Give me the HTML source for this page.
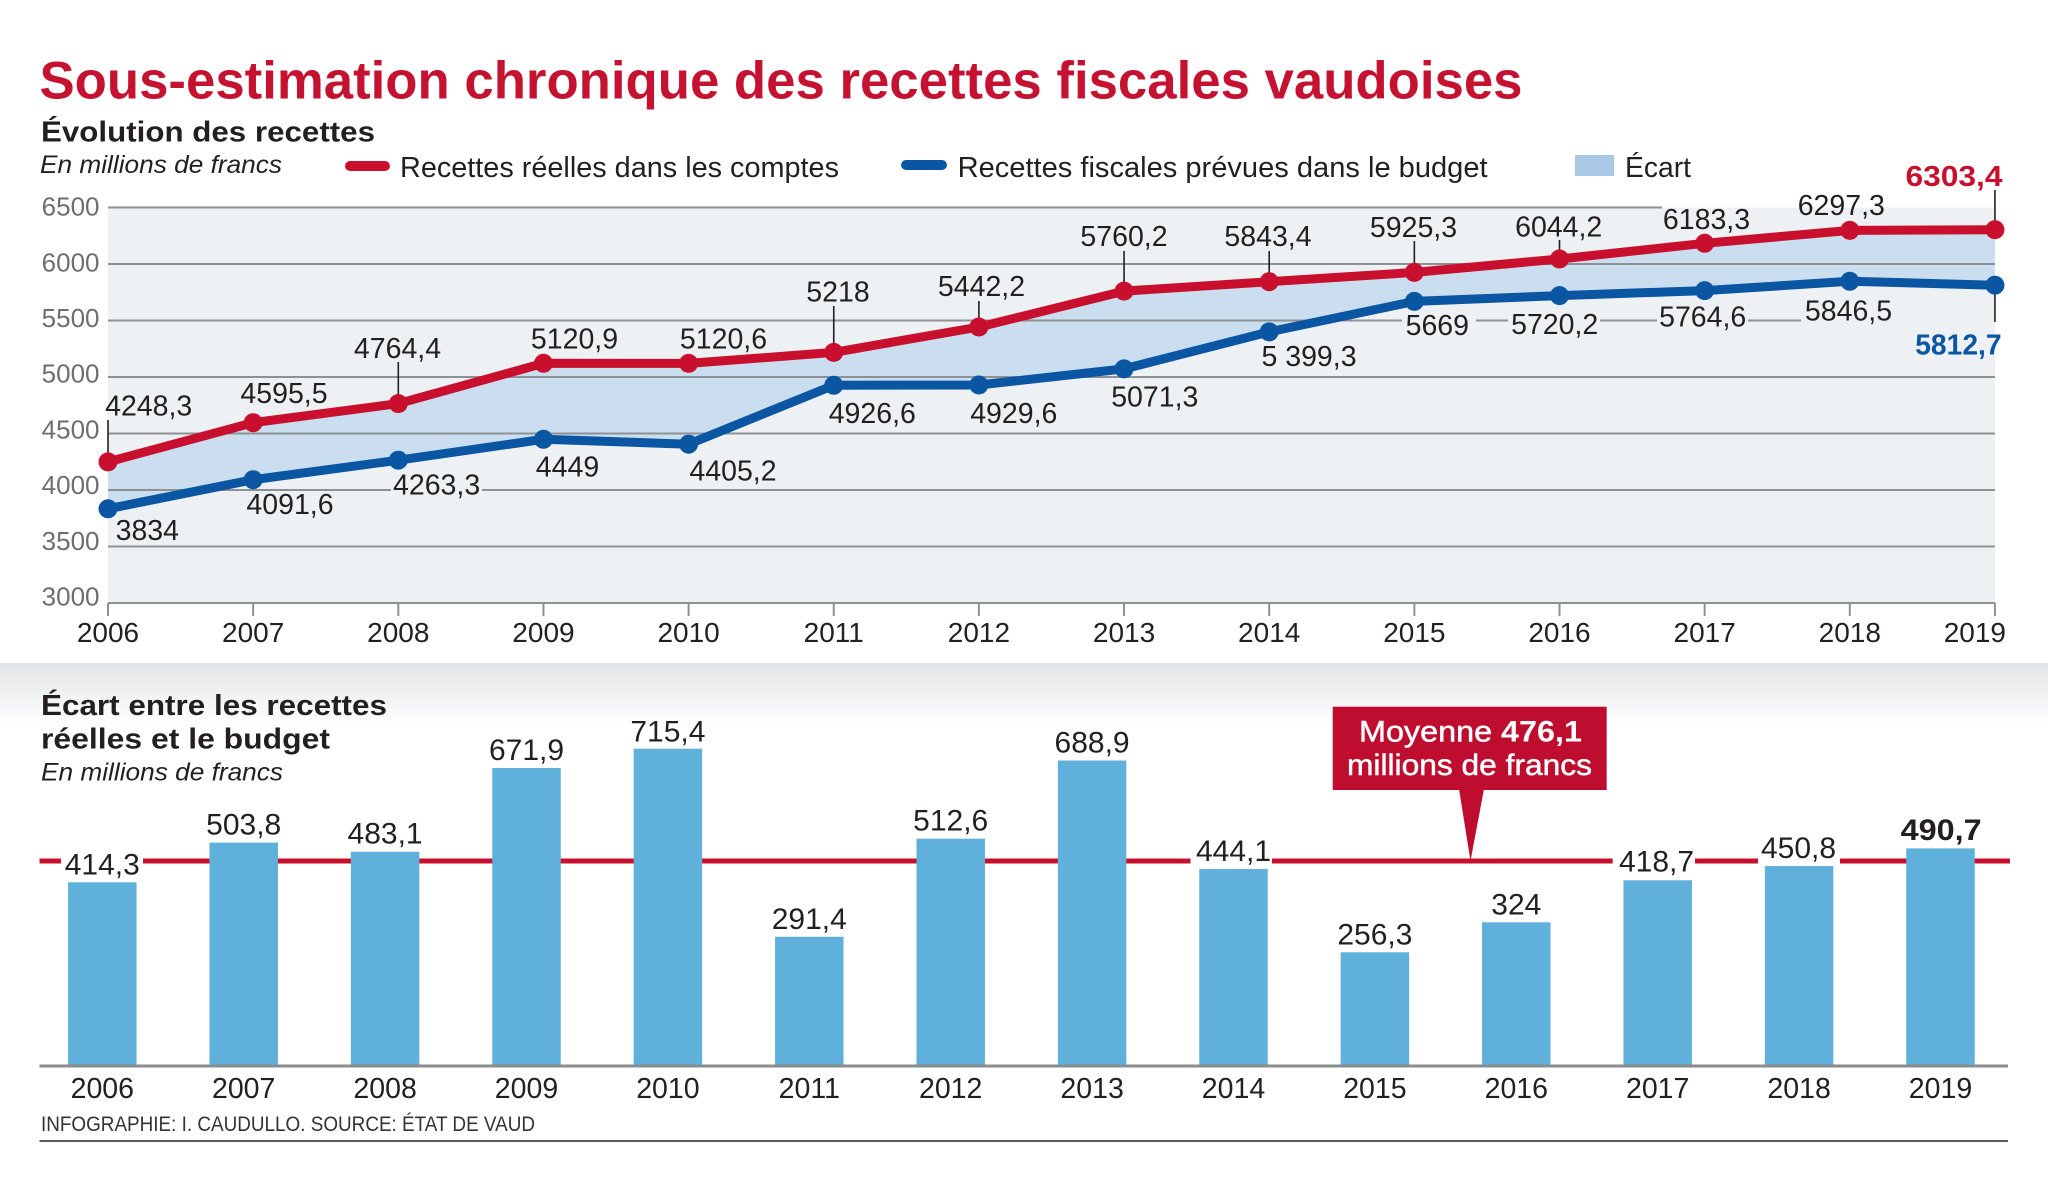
<!DOCTYPE html>
<html><head><meta charset="utf-8">
<style>html,body{margin:0;padding:0;background:#fff;}svg{display:block}</style>
</head><body>
<svg width="2048" height="1183" viewBox="0 0 2048 1183" xmlns="http://www.w3.org/2000/svg" font-family="'Liberation Sans', Arial, sans-serif">
<defs>
<linearGradient id="sh" x1="0" y1="0" x2="0" y2="1">
<stop offset="0" stop-color="#e1e4e6"/><stop offset="1" stop-color="#ffffff"/>
</linearGradient>
</defs>
<rect x="0" y="0" width="2048" height="1183" fill="#fff"/>

<!-- Titles -->
<text x="39.5" y="98.6" font-size="53" font-weight="bold" fill="#c41230" textLength="1483" lengthAdjust="spacingAndGlyphs">Sous-estimation chronique des recettes fiscales vaudoises</text>
<text x="41" y="141.4" font-size="29" font-weight="bold" fill="#231f20" textLength="334" lengthAdjust="spacingAndGlyphs">Évolution des recettes</text>
<text x="40" y="173" font-size="25" font-style="italic" fill="#231f20" textLength="242" lengthAdjust="spacingAndGlyphs">En millions de francs</text>

<!-- Legend -->
<line x1="350" y1="166" x2="385" y2="166" stroke="#c8102e" stroke-width="10" stroke-linecap="round"/>
<text x="400" y="177" font-size="28.5" fill="#231f20" textLength="439" lengthAdjust="spacingAndGlyphs">Recettes réelles dans les comptes</text>
<line x1="906" y1="165" x2="942" y2="165" stroke="#0b56a2" stroke-width="10" stroke-linecap="round"/>
<text x="957.6" y="177" font-size="28.5" fill="#231f20" textLength="530" lengthAdjust="spacingAndGlyphs">Recettes fiscales prévues dans le budget</text>
<rect x="1575" y="155" width="39" height="21" fill="#a9c9e7"/>
<text x="1625" y="177" font-size="28.5" fill="#231f20" textLength="66" lengthAdjust="spacingAndGlyphs">Écart</text>

<!-- Plot background -->
<rect x="108" y="207.5" width="1887" height="395.5" fill="#eef1f3"/>

<!-- Ecart fill -->
<polygon fill="#cadef0" points="108,461.9 253.15,422.7 398.3,403.6 543.45,363.3 688.6,363.4 833.75,352.4 978.9,327.0 1124.05,291.1 1269.2,281.7 1414.35,272.4 1559.5,259.0 1704.65,243.3 1849.8,230.4 1994.95,229.7 1994.95,285.2 1849.8,281.3 1704.65,290.6 1559.5,295.6 1414.35,301.4 1269.2,331.9 1124.05,368.9 978.9,385.0 833.75,385.3 688.6,444.2 543.45,439.3 398.3,460.2 253.15,479.7 108,508.8"/>

<!-- Gridlines -->
<g stroke="#8e9194" stroke-width="2">
<line x1="108" y1="207.5" x2="1662" y2="207.5"/>
<line x1="108" y1="264" x2="1995" y2="264"/>
<line x1="108" y1="320.5" x2="1402" y2="320.5"/>
<line x1="1476" y1="320.5" x2="1508" y2="320.5"/>
<line x1="1600" y1="320.5" x2="1657" y2="320.5"/>
<line x1="1748" y1="320.5" x2="1801" y2="320.5"/>
<line x1="108" y1="377" x2="1995" y2="377"/>
<line x1="108" y1="433.5" x2="1995" y2="433.5"/>
<line x1="108" y1="490" x2="391" y2="490"/>
<line x1="482" y1="490" x2="1995" y2="490"/>
<line x1="108" y1="546.5" x2="1995" y2="546.5"/>
<line x1="108" y1="603" x2="1995" y2="603"/>
</g>
<!-- ticks -->
<g stroke="#8e9194" stroke-width="2">
<line x1="108" y1="603" x2="108" y2="616"/>
<line x1="253.15" y1="603" x2="253.15" y2="616"/>
<line x1="398.3" y1="603" x2="398.3" y2="616"/>
<line x1="543.45" y1="603" x2="543.45" y2="616"/>
<line x1="688.6" y1="603" x2="688.6" y2="616"/>
<line x1="833.75" y1="603" x2="833.75" y2="616"/>
<line x1="978.9" y1="603" x2="978.9" y2="616"/>
<line x1="1124.05" y1="603" x2="1124.05" y2="616"/>
<line x1="1269.2" y1="603" x2="1269.2" y2="616"/>
<line x1="1414.35" y1="603" x2="1414.35" y2="616"/>
<line x1="1559.5" y1="603" x2="1559.5" y2="616"/>
<line x1="1704.65" y1="603" x2="1704.65" y2="616"/>
<line x1="1849.8" y1="603" x2="1849.8" y2="616"/>
<line x1="1994.95" y1="603" x2="1994.95" y2="616"/>
</g>

<!-- Y labels -->
<g font-size="26" fill="#6d6e71" text-anchor="end">
<text x="99.5" y="215.7">6500</text>
<text x="99.5" y="271.4">6000</text>
<text x="99.5" y="327.1">5500</text>
<text x="99.5" y="382.7">5000</text>
<text x="99.5" y="438.4">4500</text>
<text x="99.5" y="494.1">4000</text>
<text x="99.5" y="549.8">3500</text>
<text x="99.5" y="605.5">3000</text>
</g>

<!-- X labels top -->
<g font-size="28" fill="#231f20" text-anchor="middle">
<text x="108" y="642">2006</text>
<text x="253.15" y="642">2007</text>
<text x="398.3" y="642">2008</text>
<text x="543.45" y="642">2009</text>
<text x="688.6" y="642">2010</text>
<text x="833.75" y="642">2011</text>
<text x="978.9" y="642">2012</text>
<text x="1124.05" y="642">2013</text>
<text x="1269.2" y="642">2014</text>
<text x="1414.35" y="642">2015</text>
<text x="1559.5" y="642">2016</text>
<text x="1704.65" y="642">2017</text>
<text x="1849.8" y="642">2018</text>
<text x="2006" y="642" text-anchor="end">2019</text>
</g>

<!-- Leaders -->
<g stroke="#231f20" stroke-width="1.6">
<line x1="108" y1="420" x2="108" y2="455"/>
<line x1="398.3" y1="362" x2="398.3" y2="397"/>
<line x1="833.75" y1="306" x2="833.75" y2="346"/>
<line x1="978.9" y1="301" x2="978.9" y2="321"/>
<line x1="1124.05" y1="251" x2="1124.05" y2="285"/>
<line x1="1269.2" y1="251" x2="1269.2" y2="276"/>
<line x1="1414.35" y1="241" x2="1414.35" y2="266"/>
<line x1="1559.5" y1="240" x2="1559.5" y2="253"/>
<line x1="1994.95" y1="190" x2="1994.95" y2="223"/>
<line x1="1994.95" y1="291" x2="1994.95" y2="322"/>
</g>

<!-- Series lines -->
<polyline fill="none" stroke="#0b56a2" stroke-width="9" stroke-linejoin="round" points="108,508.8 253.15,479.7 398.3,460.2 543.45,439.3 688.6,444.2 833.75,385.3 978.9,385.0 1124.05,368.9 1269.2,331.9 1414.35,301.4 1559.5,295.6 1704.65,290.6 1849.8,281.3 1994.95,285.2"/>
<polyline fill="none" stroke="#c8102e" stroke-width="9" stroke-linejoin="round" points="108,461.9 253.15,422.7 398.3,403.6 543.45,363.3 688.6,363.4 833.75,352.4 978.9,327.0 1124.05,291.1 1269.2,281.7 1414.35,272.4 1559.5,259.0 1704.65,243.3 1849.8,230.4 1994.95,229.7"/>
<g fill="#0b56a2">
<circle cx="108" cy="508.8" r="9.5"/><circle cx="253.15" cy="479.7" r="9.5"/><circle cx="398.3" cy="460.2" r="9.5"/><circle cx="543.45" cy="439.3" r="9.5"/><circle cx="688.6" cy="444.2" r="9.5"/><circle cx="833.75" cy="385.3" r="9.5"/><circle cx="978.9" cy="385.0" r="9.5"/><circle cx="1124.05" cy="368.9" r="9.5"/><circle cx="1269.2" cy="331.9" r="9.5"/><circle cx="1414.35" cy="301.4" r="9.5"/><circle cx="1559.5" cy="295.6" r="9.5"/><circle cx="1704.65" cy="290.6" r="9.5"/><circle cx="1849.8" cy="281.3" r="9.5"/><circle cx="1994.95" cy="285.2" r="9.5"/>
</g>
<g fill="#c8102e">
<circle cx="108" cy="461.9" r="9.5"/><circle cx="253.15" cy="422.7" r="9.5"/><circle cx="398.3" cy="403.6" r="9.5"/><circle cx="543.45" cy="363.3" r="9.5"/><circle cx="688.6" cy="363.4" r="9.5"/><circle cx="833.75" cy="352.4" r="9.5"/><circle cx="978.9" cy="327.0" r="9.5"/><circle cx="1124.05" cy="291.1" r="9.5"/><circle cx="1269.2" cy="281.7" r="9.5"/><circle cx="1414.35" cy="272.4" r="9.5"/><circle cx="1559.5" cy="259.0" r="9.5"/><circle cx="1704.65" cy="243.3" r="9.5"/><circle cx="1849.8" cy="230.4" r="9.5"/><circle cx="1994.95" cy="229.7" r="9.5"/>
</g>

<!-- Data labels top -->
<g font-size="28.5" fill="#231f20" text-anchor="middle">
<text x="148.7" y="415.7">4248,3</text>
<text x="284" y="403.2">4595,5</text>
<text x="397.5" y="358">4764,4</text>
<text x="574.5" y="348.5">5120,9</text>
<text x="723.5" y="348.5">5120,6</text>
<text x="838" y="301.6">5218</text>
<text x="981.5" y="296">5442,2</text>
<text x="1124" y="245.8">5760,2</text>
<text x="1268" y="245.8">5843,4</text>
<text x="1413.5" y="237">5925,3</text>
<text x="1558.7" y="236.6">6044,2</text>
<text x="1706.5" y="229">6183,3</text>
<text x="1841.3" y="215">6297,3</text>
<text x="147.3" y="540">3834</text>
<text x="290" y="514">4091,6</text>
<text x="436.6" y="494.3">4263,3</text>
<text x="567.5" y="476.4">4449</text>
<text x="733" y="480.6">4405,2</text>
<text x="872.3" y="423">4926,6</text>
<text x="1013.8" y="423">4929,6</text>
<text x="1154.8" y="406.5">5071,3</text>
<text x="1309" y="366">5 399,3</text>
<text x="1437.3" y="335">5669</text>
<text x="1554.7" y="333.8">5720,2</text>
<text x="1702.7" y="326.4">5764,6</text>
<text x="1848.5" y="320.5">5846,5</text>
</g>
<text x="1905.5" y="186" font-size="29" font-weight="bold" fill="#c8102e" textLength="97" lengthAdjust="spacingAndGlyphs">6303,4</text>
<text x="1915.2" y="354.4" font-size="29" font-weight="bold" fill="#0b56a2" textLength="86.4" lengthAdjust="spacingAndGlyphs">5812,7</text>

<!-- Shadow band -->
<rect x="0" y="663" width="2048" height="62" fill="url(#sh)"/>

<!-- Bottom titles -->
<text x="41" y="715" font-size="29" font-weight="bold" fill="#231f20" textLength="346" lengthAdjust="spacingAndGlyphs">Écart entre les recettes</text>
<text x="41" y="748.6" font-size="29" font-weight="bold" fill="#231f20" textLength="289" lengthAdjust="spacingAndGlyphs">réelles et le budget</text>
<text x="41" y="780.6" font-size="25" font-style="italic" fill="#231f20" textLength="242" lengthAdjust="spacingAndGlyphs">En millions de francs</text>

<!-- Average line -->
<line x1="39.5" y1="861" x2="2010" y2="861" stroke="#c8102e" stroke-width="5"/>
<!-- knockouts -->
<g fill="#ffffff">
<rect x="61" y="854" width="82" height="14"/>
<rect x="1190.5" y="854" width="81.5" height="14"/>
<rect x="1612.7" y="854" width="82.3" height="14"/>
<rect x="1758" y="854" width="82" height="12"/>
</g>

<!-- Bars -->
<g fill="#5fb0da">
<rect x="68.05" y="882.3" width="68.5" height="183.7"/>
<rect x="209.45" y="842.6" width="68.5" height="223.4"/>
<rect x="350.85" y="851.7" width="68.5" height="214.3"/>
<rect x="492.25" y="768.0" width="68.5" height="298.0"/>
<rect x="633.65" y="748.7" width="68.5" height="317.3"/>
<rect x="775.05" y="936.8" width="68.5" height="129.2"/>
<rect x="916.45" y="838.7" width="68.5" height="227.3"/>
<rect x="1057.85" y="760.5" width="68.5" height="305.5"/>
<rect x="1199.25" y="869.0" width="68.5" height="197.0"/>
<rect x="1340.65" y="952.3" width="68.5" height="113.7"/>
<rect x="1482.05" y="922.3" width="68.5" height="143.7"/>
<rect x="1623.45" y="880.3" width="68.5" height="185.7"/>
<rect x="1764.85" y="866.1" width="68.5" height="199.9"/>
<rect x="1906.25" y="848.4" width="68.5" height="217.6"/>
</g>

<!-- Bar labels -->
<g font-size="30" fill="#231f20" text-anchor="middle">
<text x="102.3" y="874.3">414,3</text>
<text x="243.7" y="834.6">503,8</text>
<text x="385.1" y="843.7">483,1</text>
<text x="526.5" y="760">671,9</text>
<text x="667.9" y="741.5">715,4</text>
<text x="809.3" y="928.8">291,4</text>
<text x="950.7" y="830.7">512,6</text>
<text x="1092.1" y="752.5">688,9</text>
<text x="1233.5" y="861">444,1</text>
<text x="1374.9" y="944.3">256,3</text>
<text x="1516.3" y="914.3">324</text>
<text x="1656.5" y="871.7">418,7</text>
<text x="1798.5" y="858">450,8</text>
</g>
<text x="1900.6" y="839.8" font-size="30" font-weight="bold" fill="#231f20" textLength="81" lengthAdjust="spacingAndGlyphs">490,7</text>

<!-- Callout -->
<rect x="1332.7" y="706.7" width="274" height="83.3" fill="#bf0d2f"/>
<polygon points="1459,789 1484,789 1470.5,861" fill="#bf0d2f"/>
<text x="1359" y="741.7" font-size="29.5" fill="#ffffff" stroke="#ffffff" stroke-width="0.5" textLength="223" lengthAdjust="spacingAndGlyphs">Moyenne <tspan font-weight="bold" stroke-width="0">476,1</tspan></text>
<text x="1347" y="775" font-size="30" fill="#ffffff" stroke="#ffffff" stroke-width="0.5" textLength="245" lengthAdjust="spacingAndGlyphs">millions de francs</text>

<!-- Bottom axis -->
<line x1="39.5" y1="1066" x2="2008" y2="1066" stroke="#8a8c8e" stroke-width="3"/>
<g font-size="28.5" fill="#231f20" text-anchor="middle">
<text x="102.3" y="1098">2006</text>
<text x="243.7" y="1098">2007</text>
<text x="385.1" y="1098">2008</text>
<text x="526.5" y="1098">2009</text>
<text x="667.9" y="1098">2010</text>
<text x="809.3" y="1098">2011</text>
<text x="950.7" y="1098">2012</text>
<text x="1092.1" y="1098">2013</text>
<text x="1233.5" y="1098">2014</text>
<text x="1374.9" y="1098">2015</text>
<text x="1516.3" y="1098">2016</text>
<text x="1657.7" y="1098">2017</text>
<text x="1799.1" y="1098">2018</text>
<text x="1940.5" y="1098">2019</text>
</g>

<!-- Footer -->
<text x="41" y="1131" font-size="21.5" fill="#333333" textLength="494" lengthAdjust="spacingAndGlyphs">INFOGRAPHIE: I. CAUDULLO. SOURCE: ÉTAT DE VAUD</text>
<line x1="39.5" y1="1141" x2="2008" y2="1141" stroke="#231f20" stroke-width="1.6"/>
</svg>
</body></html>
